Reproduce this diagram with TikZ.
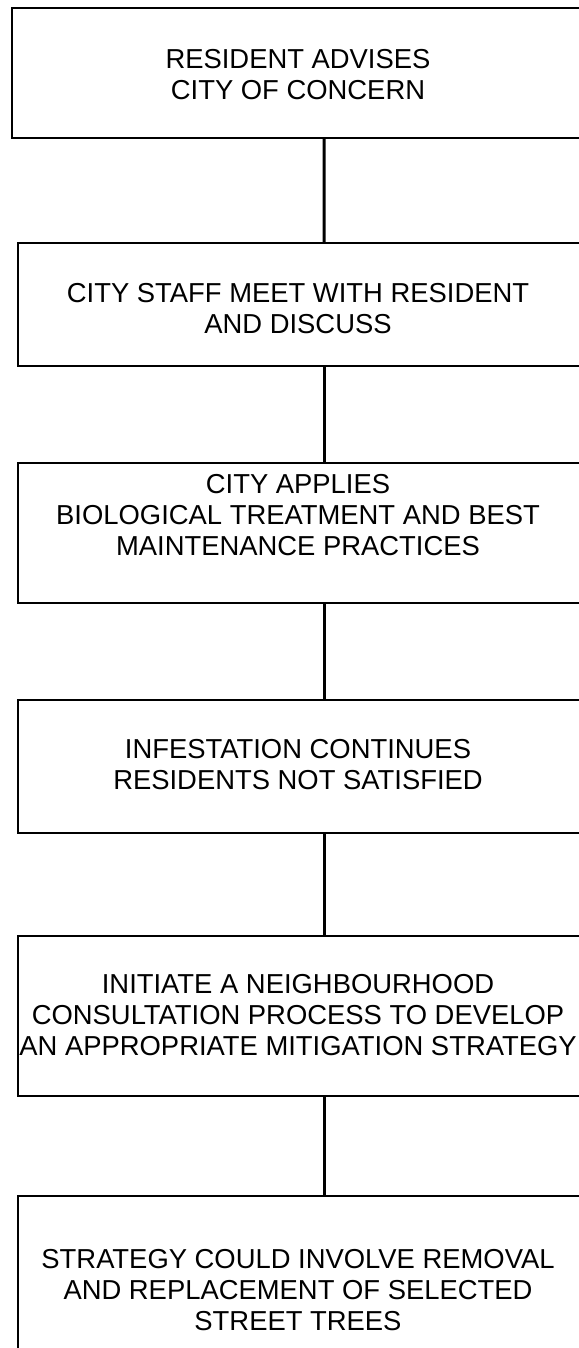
\documentclass[tikz,border=0pt]{standalone}
\usepackage{fontspec}
\setmainfont{Liberation Sans}
\begin{document}
\begin{tikzpicture}[x=1bp,y=-1bp,
  flowbox/.style={draw=black,line width=2bp,rectangle,inner sep=0pt,anchor=north west},
  flowtext/.style={align=center,inner sep=0pt,font=\fontsize{27.4bp}{31bp}\selectfont},
  link/.style={line width=3bp}]
\useasboundingbox (0,0) rectangle (579,1348);
\clip (0,0) rectangle (579,1348);
\fill[white] (0,0) rectangle (579,1348);
\node[flowbox,minimum width=624bp,minimum height=130bp] (b1) at (11,7) {};
\node[flowbox,minimum width=612bp,minimum height=123bp] (b2) at (17,242) {};
\node[flowbox,minimum width=612bp,minimum height=140bp] (b3) at (17,462) {};
\node[flowbox,minimum width=612bp,minimum height=133bp] (b4) at (17,699) {};
\node[flowbox,minimum width=612bp,minimum height=160bp] (b5) at (17,935) {};
\node[flowbox,minimum width=612bp,minimum height=250bp] (b6) at (17,1195) {};
\node[flowtext] (t1) at (298,75) {RESIDENT ADVISES\\CITY OF CONCERN};
\node[flowtext] (t2) at (298,309) {CITY STAFF MEET WITH RESIDENT\\AND DISCUSS};
\node[flowtext] (t3) at (298,515) {CITY APPLIES\\BIOLOGICAL TREATMENT AND BEST\\MAINTENANCE PRACTICES};
\node[flowtext] (t4) at (298,765) {INFESTATION CONTINUES\\RESIDENTS NOT SATISFIED};
\node[flowtext] (t5) at (298,1015) {INITIATE A NEIGHBOURHOOD\\CONSULTATION PROCESS TO DEVELOP\\AN APPROPRIATE MITIGATION STRATEGY};
\node[flowtext] (t6) at (298,1290) {STRATEGY COULD INVOLVE REMOVAL\\AND REPLACEMENT OF SELECTED\\STREET TREES};
\draw[link] (b1.south) -- (b2.north);
\draw[link] (b2.south) -- (b3.north);
\draw[link] (b3.south) -- (b4.north);
\draw[link] (b4.south) -- (b5.north);
\draw[link] (b5.south) -- (b6.north);
\end{tikzpicture}
\end{document}
